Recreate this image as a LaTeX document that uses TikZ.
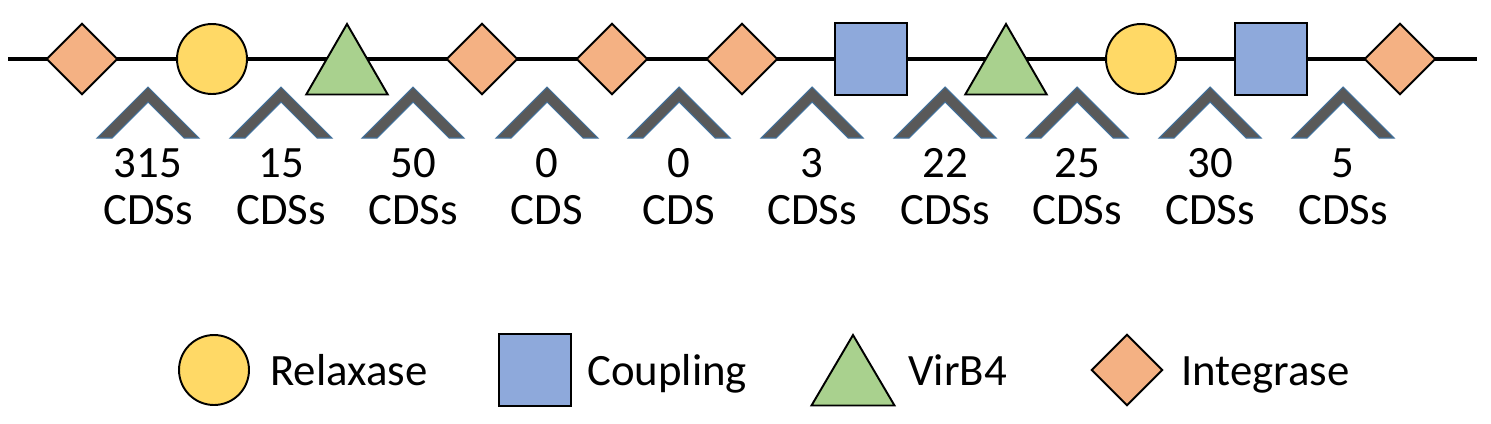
\documentclass[tikz,border=0pt]{standalone}
\usepackage{fontspec}
\setmainfont{Carlito}
\usetikzlibrary{shapes.geometric}

\definecolor{relaxfill}{HTML}{FFD966}
\definecolor{coupfill}{HTML}{8EA9DB}
\definecolor{virbfill}{HTML}{A9D18E}
\definecolor{integfill}{HTML}{F4B183}
\definecolor{chevgray}{HTML}{595959}
\definecolor{chevblue}{HTML}{41719C}

\begin{document}
\begin{tikzpicture}[x=0.02cm, y=-0.02cm,
  backbone/.style={line width=2.8pt, black},
  gene/.style={draw=black, line width=1.1pt, inner sep=0pt, outer sep=0pt},
  relaxase/.style={gene, circle, fill=relaxfill, minimum size=1.4cm},
  coupling/.style={gene, rectangle, fill=coupfill, minimum size=1.43cm},
  virb/.style={gene, isosceles triangle, isosceles triangle stretches,
    shape border rotate=90, fill=virbfill, anchor=apex,
    minimum width=1.63cm, minimum height=1.41cm},
  integrase/.style={gene, diamond, fill=integfill, minimum size=1.41cm},
  chevron/.style={fill=chevgray, draw=chevblue, line width=0.6pt},
  count/.style={font=\fontsize{25.5}{26.7}\selectfont, align=center,
    inner sep=0pt, anchor=north},
  legtext/.style={font=\fontsize{25.5}{26.7}\selectfont, anchor=base west,
    inner sep=0pt}
]
  \useasboundingbox (0,0) rectangle (1491,423);

  % === Backbone ===
  \coordinate (left end) at (8,59);
  \coordinate (right end) at (1477,59);
  \draw[backbone] (left end) -- (right end);

  % === Genes on the backbone ===
  \node[integrase] (g1) at (82,59) {};
  \node[relaxase] (g2) at (212,59) {};
  \node[virb] (g3) at (347,24) {};
  \node[integrase] (g4) at (482,59) {};
  \node[integrase] (g5) at (612,59) {};
  \node[integrase] (g6) at (742,59) {};
  \node[coupling] (g7) at (871,59) {};
  \node[virb] (g8) at (1006,24) {};
  \node[relaxase] (g9) at (1141,59) {};
  \node[coupling] (g10) at (1271,59) {};
  \node[integrase] (g11) at (1400,59) {};

  % === Gaps between genes ===
  \draw[chevron] (148,87) -- ++(51,51) -- ++(-15,0) -- ++(-36,-36) -- ++(-36,36) -- ++(-15,0) -- cycle;
  \node[count] (n1) at (148,148) {315\\CDSs};
  \draw[chevron] (281,87) -- ++(51,51) -- ++(-15,0) -- ++(-36,-36) -- ++(-36,36) -- ++(-15,0) -- cycle;
  \node[count] (n2) at (281,148) {15\\CDSs};
  \draw[chevron] (413,87) -- ++(51,51) -- ++(-15,0) -- ++(-36,-36) -- ++(-36,36) -- ++(-15,0) -- cycle;
  \node[count] (n3) at (413,148) {50\\CDSs};
  \draw[chevron] (547,87) -- ++(51,51) -- ++(-15,0) -- ++(-36,-36) -- ++(-36,36) -- ++(-15,0) -- cycle;
  \node[count] (n4) at (547,148) {0\\CDS};
  \draw[chevron] (679,87) -- ++(51,51) -- ++(-15,0) -- ++(-36,-36) -- ++(-36,36) -- ++(-15,0) -- cycle;
  \node[count] (n5) at (679,148) {0\\CDS};
  \draw[chevron] (812,87) -- ++(51,51) -- ++(-15,0) -- ++(-36,-36) -- ++(-36,36) -- ++(-15,0) -- cycle;
  \node[count] (n6) at (812,148) {3\\CDSs};
  \draw[chevron] (945,87) -- ++(51,51) -- ++(-15,0) -- ++(-36,-36) -- ++(-36,36) -- ++(-15,0) -- cycle;
  \node[count] (n7) at (945,148) {22\\CDSs};
  \draw[chevron] (1077,87) -- ++(51,51) -- ++(-15,0) -- ++(-36,-36) -- ++(-36,36) -- ++(-15,0) -- cycle;
  \node[count] (n8) at (1077,148) {25\\CDSs};
  \draw[chevron] (1210,87) -- ++(51,51) -- ++(-15,0) -- ++(-36,-36) -- ++(-36,36) -- ++(-15,0) -- cycle;
  \node[count] (n9) at (1210,148) {30\\CDSs};
  \draw[chevron] (1343,87) -- ++(51,51) -- ++(-15,0) -- ++(-36,-36) -- ++(-36,36) -- ++(-15,0) -- cycle;
  \node[count] (n10) at (1343,148) {5\\CDSs};

  % === Legend ===
  \node[relaxase] (leg-r) at (214,370) {};
  \node[legtext] (leg-r-text) at (270,385) {Relaxase};
  \node[coupling] (leg-c) at (535,370) {};
  \node[legtext] (leg-c-text) at (587,385) {Coupling};
  \node[virb, minimum width=1.66cm] (leg-v) at (853,335) {};
  \node[legtext] (leg-v-text) at (908,385) {VirB4};
  \node[integrase] (leg-i) at (1127,370) {};
  \node[legtext] (leg-i-text) at (1181,385) {Integrase};
\end{tikzpicture}
\end{document}
